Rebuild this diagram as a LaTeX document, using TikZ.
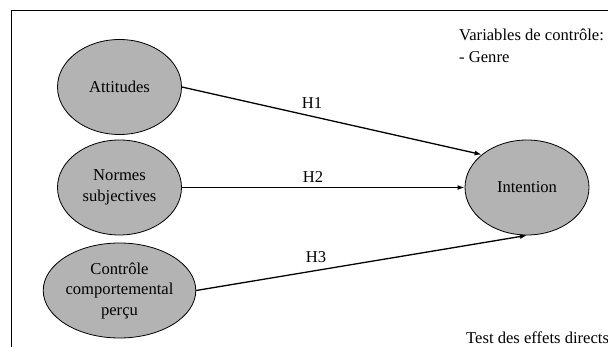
\documentclass[tikz,border=0pt]{standalone}
\usepackage{fontspec}
\setmainfont{Liberation Serif}
\usetikzlibrary{shapes.geometric,arrows.meta}
\definecolor{ellfill}{RGB}{179,179,179}
\tikzset{
  var/.style={ellipse, draw=black, line width=0.8pt, fill=ellfill, minimum width=124pt, minimum height=95pt, inner sep=0pt, align=center},
  link/.style={line width=1.3pt, -{Latex[length=7pt,width=5pt]}},
  lbl/.style={inner sep=0pt},
  note/.style={inner sep=0pt, anchor=west}
}
\begin{document}
\begin{tikzpicture}[x=1pt,y=-1pt,font=\fontsize{16.6}{20.5}\selectfont]
\useasboundingbox (0,0) rectangle (608,347);
\draw[line width=1pt] (11,350) -- (11,11) -- (612,11);
\node[var] (att) at (119.5,87) {Attitudes};
\node[var] (nor) at (119.5,187.5) {Normes\\subjectives};
\node[var] (ctl) at (119.5,290.5) {Contrôle\\comportemental\\perçu};
\node[var] (int) at (527,187.5) {Intention};
\draw[link] (att.east) -- (int.144);
\draw[link] (nor.east) -- (int.west);
\draw[link] (ctl.east) -- (int.south);
\node[lbl] (h1) at (312,103) {H1};
\node[lbl] (h2) at (313,177) {H2};
\node[lbl] (h3) at (316,257) {H3};
\node[note] (v) at (459,35) {Variables de contrôle:};
\node[note] (g) at (459,57) {- Genre};
\node[note] (t) at (466,338) {Test des effets directs};
\end{tikzpicture}
\end{document}
